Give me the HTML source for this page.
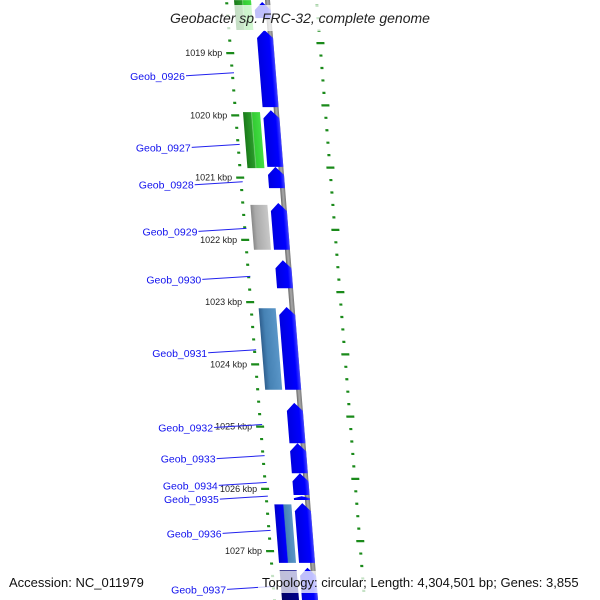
<!DOCTYPE html>
<html><head><meta charset="utf-8"><style>
html,body{margin:0;padding:0;background:#fff}
svg{display:block;font-family:"Liberation Sans",sans-serif}
</style></head><body>
<svg id="map" width="600" height="600" viewBox="0 0 600 600">
<defs>
<linearGradient id="gBlue" x1="0" x2="1"><stop offset="0" stop-color="#0000e0"/><stop offset="0.75" stop-color="#0000ff"/><stop offset="1" stop-color="#4444ff"/></linearGradient>
<linearGradient id="gGreen" x1="0" x2="1"><stop offset="0" stop-color="#1a7a1a"/><stop offset="0.45" stop-color="#2a9a2a"/><stop offset="0.5" stop-color="#7ad07a"/><stop offset="0.55" stop-color="#33cc33"/><stop offset="1" stop-color="#44dd44"/></linearGradient>
<linearGradient id="gGray" x1="0" x2="1"><stop offset="0" stop-color="#888"/><stop offset="0.25" stop-color="#aaa"/><stop offset="1" stop-color="#c8c8c8"/></linearGradient>
<linearGradient id="gSteel" x1="0" x2="1"><stop offset="0" stop-color="#2f5f8f"/><stop offset="0.3" stop-color="#4682b4"/><stop offset="1" stop-color="#5a96c8"/></linearGradient>
<linearGradient id="gMix" x1="0" x2="1"><stop offset="0" stop-color="#0000cc"/><stop offset="0.5" stop-color="#0000ff"/><stop offset="0.55" stop-color="#4682b4"/><stop offset="1" stop-color="#5a96c8"/></linearGradient>
<linearGradient id="gNavy" x1="0" x2="1"><stop offset="0" stop-color="#000066"/><stop offset="1" stop-color="#00008b"/></linearGradient>
<linearGradient id="gBack" x1="0" x2="1"><stop offset="0" stop-color="#666"/><stop offset="0.5" stop-color="#aaa"/><stop offset="1" stop-color="#777"/></linearGradient>
</defs>
<g id="track" transform="matrix(1,0,0.08,1,0,0)"></g>
<g id="labels"></g>
<rect x="155" y="5" width="292" height="26" fill="#fff" opacity="0.75"/>
<text x="300" y="23" text-anchor="middle" font-size="14" font-style="italic" fill="#222">Geobacter sp. FRC-32, complete genome</text>
<rect x="258" y="571" width="338" height="22" fill="#fff" opacity="0.75"/>
<text x="9" y="587" font-size="13" fill="#111">Accession: NC_011979</text>
<text x="262" y="587" font-size="13" fill="#111">Topology: circular; Length: 4,304,501 bp; Genes: 3,855</text>
</svg>
<script>
const fwdStart=[1018.18,1018.63,1019.92,1020.83,1021.41,1022.33,1023.08,1024.62,1025.27,1025.75,1026.12,1026.23,1027.27];
const fwdEnd=[1018.44,1019.87,1020.83,1021.17,1022.16,1022.78,1024.41,1025.27,1025.75,1026.10,1026.18,1027.19,1027.79];
const revStart=[1018.15,1019.95,1021.44,1023.10,1026.25,1027.31];
const revEnd=[1018.63,1020.85,1022.16,1024.41,1027.19,1027.79];
const revCog=['green','green','gray','steel','mix','navy'];
const tickKbp=[1019,1020,1021,1022,1023,1024,1025,1026,1027];
const tickLabels=['1019 kbp','1020 kbp','1021 kbp','1022 kbp','1023 kbp','1024 kbp','1025 kbp','1026 kbp','1027 kbp'];
const geneNames=['Geob_0926','Geob_0927','Geob_0928','Geob_0929','Geob_0930','Geob_0931','Geob_0932','Geob_0933','Geob_0934','Geob_0935','Geob_0936','Geob_0937'];
const geneLabelKbp=[1019.35,1020.5,1021.1,1021.85,1022.62,1023.8,1025.0,1025.5,1025.93,1026.15,1026.7,1027.6];

const NS='http://www.w3.org/2000/svg';
const y=k=>53+(k-1019)*62.25;
const skew=0.08;
const track=document.getElementById('track');
const labels=document.getElementById('labels');
function mk(tag,attrs,parent){const e=document.createElementNS(NS,tag);for(const k in attrs)e.setAttribute(k,attrs[k]);parent.appendChild(e);return e;}

// backbone
let bb=mk('rect',{x:265,y:-10,width:5,height:620,fill:'url(#gBack)'},track);



// left ticks: minor every 0.2 kbp
for(let k=1018.0;k<=1027.85;k+=0.2){
  const kk=Math.round(k*10)/10;
  const major=Math.abs(kk-Math.round(kk))<0.01;
  const r=mk('rect',{x:major?222:225,y:y(kk)-1,width:major?8:3,height:2.2,fill:'#1a8a1a'},track);
  
  
}
// right ruler track
for(let k=1018.0;k<=1027.85;k+=0.2){
  const kk=Math.round(k*10)/10;
  const major=Math.abs(kk-Math.round(kk))<0.01;
  const yy=y(kk)-10;
  const r=mk('rect',{x:major?313:315,y:yy-1,width:major?8:3,height:2.2,fill:'#1a8a1a'},track);
  
  
}
// forward genes
fwdStart.forEach((s,i)=>{
  const y0=y(s),y1=y(fwdEnd[i]);const h=Math.min(8,(y1-y0)*0.5);
  const x0=254,x1=270,xm=262;
  const p=mk('path',{d:`M${x0},${y1} L${x0},${y0+h} L${xm},${y0} L${x1},${y0+h} L${x1},${y1} Z`,fill:'url(#gBlue)'},track);
  
  
});
// reverse genes
const fills={green:'url(#gGreen)',gray:'url(#gGray)',steel:'url(#gSteel)',mix:'url(#gMix)',navy:'url(#gNavy)'};
revStart.forEach((s,i)=>{
  const r=mk('rect',{x:234,y:y(s),width:17,height:y(revEnd[i])-y(s),fill:fills[revCog[i]]},track);
  
  
});
// tick labels
tickKbp.forEach((k,i)=>{
  const yy=y(k);const xx=221+skew*yy;
  const t=mk('text',{x:xx-3,y:yy+3,'font-size':9,'text-anchor':'end',fill:'#222'},labels);
  t.textContent=tickLabels[i];
  
  
});
// gene labels
geneNames.forEach((n,i)=>{
  const yy=y(geneLabelKbp[i]);
  const xe=228+skew*yy;
  const xs=xe-48;
  const l=mk('line',{x1:xs,y1:yy+1,x2:xe,y2:yy-2,stroke:'#2222ee','stroke-width':1},labels);
  
  
  const t=mk('text',{x:xs-1,y:yy+5,'font-size':10.5,'text-anchor':'end',fill:'#1111ee'},labels);
  t.textContent=n;
  
  
});
</script>
</body></html>
